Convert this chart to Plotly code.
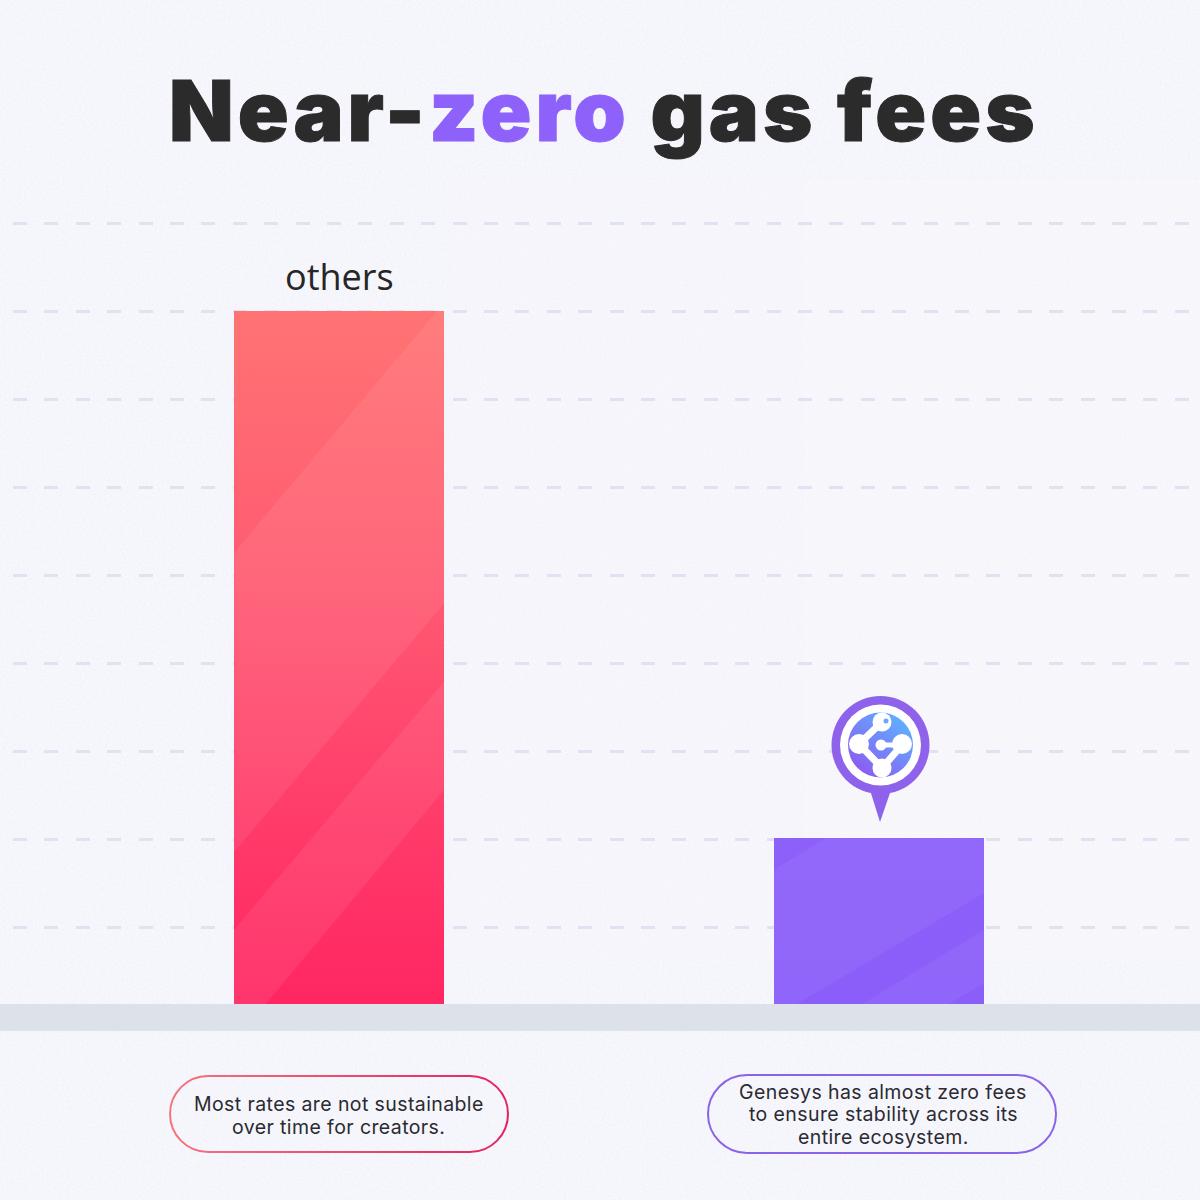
import base64
import plotly.graph_objects as go

# Chart data
categories = ['others', 'Genesys']
fees = [693, 166]
grid_ticks = [77, 165, 253, 341, 429, 517, 605, 693, 781]

title_parts = ['Near-', 'zero', ' gas fees']
caption_others = ['Most rates are not sustainable', 'over time for creators.']
caption_genesys = ['Genesys has almost zero fees', 'to ensure stability across its', 'entire ecosystem.']

BAR_W = 210 / 540
INK = '#2b2b2b'
PURPLE = '#8e62fa'

# Scales for the whole page: y zero sits on the floor line
X_RANGE = [(13 - 339) / 540, (1190 - 339) / 540]
Y_RANGE = [-196, 1004]

# Lighter diagonal facets, as fractions of each bar (x from left, y from bottom)
others_facets = [
    [(0, 0.651), (0.967, 1), (1, 1), (1, 0.578), (0, 0.219)],
    [(0, 0.107), (1, 0.465), (1, 0.309), (0.152, 0), (0, 0)],
]
genesys_facets = [
    [(0, 0.807), (0.248, 1), (1, 1), (1, 0.669), (0.11, 0), (0, 0)],
    [(1, 0.446), (0.419, 0), (0.833, 0), (1, 0.127)],
]


def svg_uri(svg):
    return 'data:image/svg+xml;base64,' + base64.b64encode(svg.encode()).decode()


def facet_shapes(index, value, facets, alpha):
    shapes = []
    for facet in facets:
        pts = [(index - BAR_W / 2 + fx * BAR_W, fy * value) for fx, fy in facet]
        path = 'M' + ' L'.join(f'{px:.4f},{py:.2f}' for px, py in pts) + ' Z'
        shapes.append(dict(type='path', xref='x2', yref='y', path=path,
                           fillcolor=f'rgba(255,255,255,{alpha})', line_width=0, layer='above'))
    return shapes


def pill_image(x0, y0, x1, y1, left, right):
    w, h = x1 - x0, y1 - y0
    svg = (f'<svg xmlns="http://www.w3.org/2000/svg" width="{w}" height="{h}" viewBox="0 0 {w} {h}">'
           f'<defs><linearGradient id="g"><stop offset="0" stop-color="{left}"/>'
           f'<stop offset="1" stop-color="{right}"/></linearGradient></defs>'
           f'<rect x="1" y="1" width="{w - 2}" height="{h - 2}" rx="{h / 2 - 1}" fill="none" '
           f'stroke="url(#g)" stroke-width="2"/></svg>')
    return dict(source=svg_uri(svg), xref='paper', yref='paper', x=x0 / 1200, y=1 - y0 / 1200,
                sizex=w / 1200, sizey=h / 1200, sizing='stretch', xanchor='left', yanchor='top',
                layer='above')


pin_svg = '''<svg xmlns="http://www.w3.org/2000/svg" width="400" height="508" viewBox="831 696 100 127">
<defs><linearGradient id="d" x1="0.85" y1="0.1" x2="0.2" y2="0.9">
<stop offset="0" stop-color="#5fb0ff"/><stop offset="1" stop-color="#8a5ef2"/></linearGradient></defs>
<path d="M870 790 L880 822 L891 790 Z" fill="#8e62ea"/>
<circle cx="880.5" cy="745" r="49" fill="#8e62ea"/>
<circle cx="880.5" cy="745" r="40.5" fill="#ffffff"/>
<circle cx="880.5" cy="745" r="32.5" fill="url(#d)"/>
<g stroke="#ffffff" fill="none" stroke-width="7">
<path d="M882 722 L859 744 L882 768 L902 745"/></g>
<path d="M902 745 L881 745" stroke="#ffffff" stroke-width="5" fill="none"/>
<g fill="#ffffff"><circle cx="882" cy="722" r="9.5"/><circle cx="859" cy="744" r="10"/>
<circle cx="882" cy="768" r="9.5"/><circle cx="902" cy="744" r="10"/><circle cx="881" cy="745" r="5.5"/></g>
<circle cx="886" cy="721" r="2.5" fill="#6aa6fb"/>
</svg>'''

noise_svg = '''<svg xmlns="http://www.w3.org/2000/svg" width="1200" height="1200">
<filter id="n"><feTurbulence type="fractalNoise" baseFrequency="0.45" numOctaves="2" seed="4"/>
<feColorMatrix values="0 0 0 0 0.78  0 0 0 0 0.78  0 0 0 0 0.88  0.5 0 0 0 -0.14"/></filter>
<rect width="1200" height="1200" filter="url(#n)"/></svg>'''

fig = go.Figure()

fig.add_trace(go.Bar(x=categories, y=fees, width=BAR_W,
                     marker=dict(color=['#ff5070', PURPLE], line_width=0)))


def gradient_fill(index, value, stops):
    xs = [index - BAR_W / 2, index + BAR_W / 2, index + BAR_W / 2, index - BAR_W / 2, index - BAR_W / 2]
    ys = [0, 0, value, value, 0]
    fig.add_trace(go.Scatter(x=xs, y=ys, mode='lines', line_width=0, fill='toself',
                             fillgradient=dict(type='vertical', colorscale=stops),
                             hoverinfo='skip', xaxis='x2'))


gradient_fill(0, fees[0], [[0, '#ff2662'], [0.25, '#ff3a69'], [0.6, '#ff5a72'], [1, '#ff7373']])
gradient_fill(1, fees[1], [[0, '#8b5df9'], [1, '#8d60fa']])

title_html = (f'<span style="letter-spacing:4px;stroke:{INK};stroke-width:1px;fill:{INK}">{title_parts[0]}</span>'
              f'<span style="letter-spacing:4px;stroke:#8e62fa;stroke-width:1px;fill:#8e62fa">{title_parts[1]}</span>'
              f'<span style="letter-spacing:4px;stroke:{INK};stroke-width:1px;fill:{INK}">{title_parts[2]}</span>')
annotations = [
    dict(text=title_html, xref='paper', yref='paper', x=604 / 1200, y=1 - 110 / 1200,
         showarrow=False, xanchor='center', yanchor='middle',
         font=dict(family='Inter', size=84, weight=900)),
    dict(text=categories[0], x=categories[0], y=fees[0], xref='x', yref='y', showarrow=False,
         xanchor='center', yanchor='bottom', yshift=8,
         font=dict(family='Open Sans', size=36, color='#262626')),
]

for lines, cx, ys in [(caption_others, 339, [1104, 1127]), (caption_genesys, 883, [1092, 1114, 1137])]:
    for line, y in zip(lines, ys):
        annotations.append(dict(text=f'<span style="letter-spacing:0.4px">{line}</span>',
                                xref='paper', yref='paper', x=cx / 1200, y=1 - y / 1200,
                                showarrow=False, xanchor='center', yanchor='middle',
                                font=dict(family='Inter', size=19.5, color='#2a2a30')))

shapes = [dict(type='rect', xref='paper', yref='y', x0=0, x1=1, y0=-27, y1=0,
               fillcolor='#dde1ea', line_width=0, layer='below')]
# the dashes fade towards the right of the page
for x0, alpha in [(0.375, 0.25), (0.67, 0.3)]:
    shapes.append(dict(type='rect', xref='paper', yref='paper', x0=x0, x1=1, y0=0.2, y1=0.85,
                       fillcolor=f'rgba(247,247,253,{alpha})', line_width=0, layer='between'))
shapes += facet_shapes(0, fees[0], others_facets, 0.07)
shapes += facet_shapes(1, fees[1], genesys_facets, 0.05)

images = [
    dict(source=svg_uri(noise_svg), xref='paper', yref='paper', x=0, y=1, sizex=1, sizey=1,
         sizing='stretch', xanchor='left', yanchor='top', layer='below'),
    dict(source=svg_uri(pin_svg), xref='paper', yref='paper', x=831 / 1200, y=1 - 696 / 1200,
         sizex=100 / 1200, sizey=127 / 1200, sizing='stretch', xanchor='left', yanchor='top',
         layer='above'),
    pill_image(169, 1075, 509, 1153, '#f4757c', '#e3245f'),
    pill_image(707, 1074, 1057, 1154, '#8a63e6', '#8a63e6'),
]

axis_x = dict(domain=[13 / 1200, 1190 / 1200], range=X_RANGE, showgrid=False, zeroline=False,
              showticklabels=False, ticks='', showline=False)
fig.update_layout(
    width=1200, height=1200, margin=dict(l=0, r=0, t=0, b=0), showlegend=False,
    paper_bgcolor='#f7f7fd', plot_bgcolor='rgba(0,0,0,0)',
    xaxis=dict(type='category', categoryorder='array', categoryarray=categories, **axis_x),
    xaxis2=dict(type='linear', overlaying='x', **axis_x),
    yaxis=dict(range=Y_RANGE, tickvals=grid_ticks, showgrid=True, gridcolor='#e1e1f2', gridwidth=2.5,
               griddash='14px,17.4px', zeroline=False, showticklabels=False, ticks='', showline=False),
    annotations=annotations, shapes=shapes, images=images,
)

fig.write_html('out.html', config={'displayModeBar': False},
               post_script="document.body.style.margin='0';")
